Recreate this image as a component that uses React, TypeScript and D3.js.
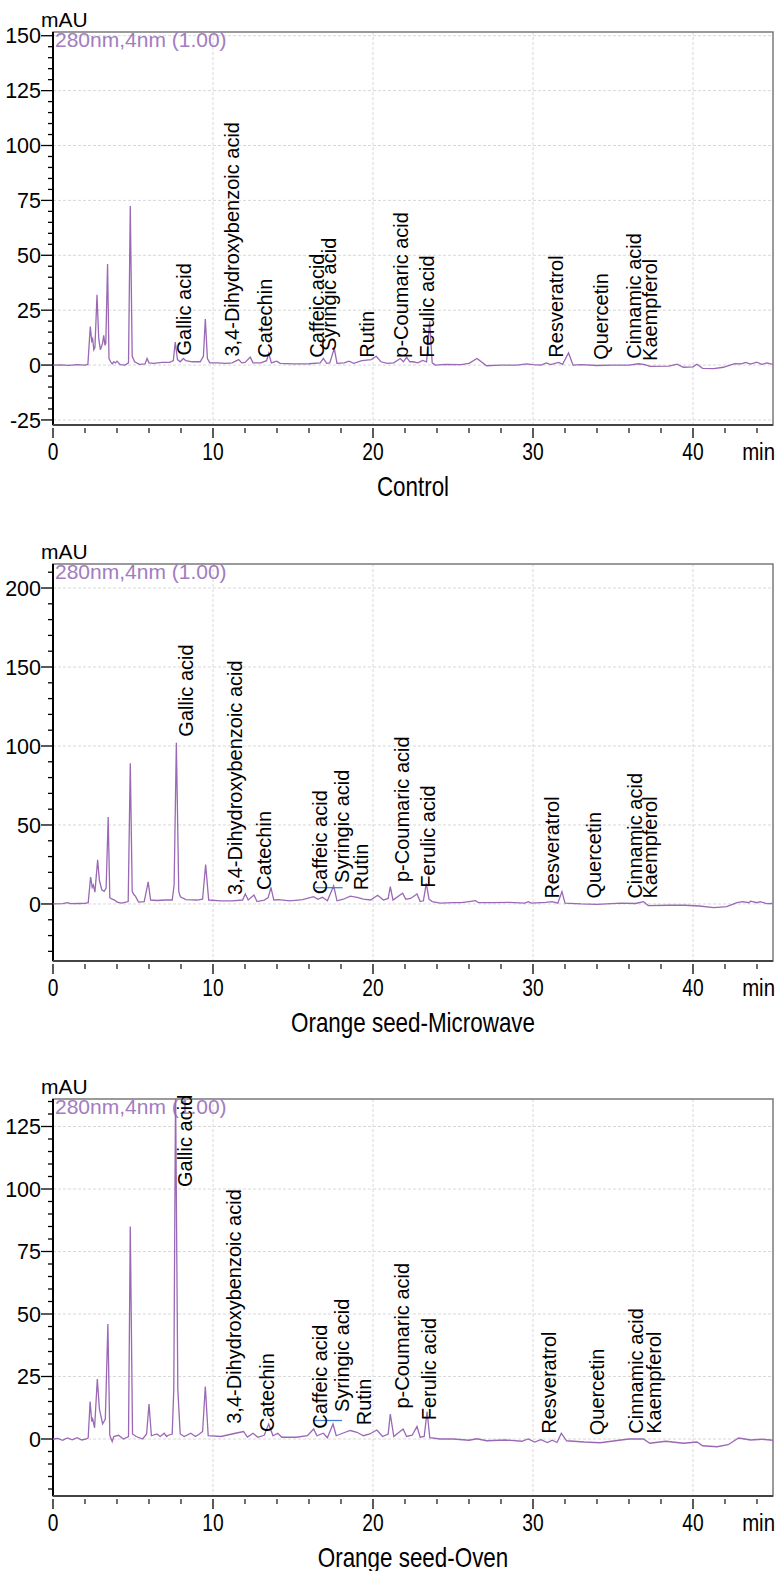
import React from "react";
import * as d3 from "d3";

// chromatogram traces, [retention time (min), signal (mAU)]
const controlTrace: [number, number][] = [
  [0, 0], [0.5, 0.1], [1.0, -0.1], [1.5, 0.2], [2.0, 0], [2.18, 0.3], [2.33, 17.5], [2.42, 11], [2.48, 12],
  [2.55, 7], [2.62, 8], [2.75, 32], [2.86, 12], [2.96, 7], [3.1, 10], [3.17, 13.5], [3.25, 9], [3.3, 10],
  [3.41, 46], [3.5, 3], [3.6, 1.5], [3.7, 0.5], [3.8, 1.5], [3.9, 1], [4.0, 1.8], [4.2, 0.2], [4.5, 0],
  [4.72, 1], [4.83, 72.5], [4.95, 4], [5.1, 1.5], [5.4, 0.3], [5.75, 0.5], [5.88, 3], [6.0, 1], [6.3, 0.8],
  [6.8, 1.2], [7.3, 1.2], [7.52, 2], [7.64, 10.5], [7.78, 2.5], [7.95, 1.5], [8.15, 3], [8.3, 2], [8.7, 1.5],
  [9.2, 1.5], [9.4, 4], [9.52, 21], [9.65, 3], [9.8, 1], [10.3, 1], [10.8, 0.8], [11.2, 1], [11.6, 2.5],
  [11.8, 1], [12.0, 1.2], [12.33, 3.6], [12.5, 1], [13.0, 1], [13.35, 2], [13.48, 5.3], [13.65, 1],
  [13.98, 1.8], [14.2, 0.8], [15, 0.5], [16, 0.6], [16.7, 1], [16.9, 3], [17.1, 0.8], [17.3, 1], [17.58, 7.6],
  [17.75, 0.8], [18.2, 1], [18.5, 1.8], [18.8, 0.8], [19.3, 2], [19.9, 2.5], [20.2, 4], [20.5, 1.5],
  [20.9, 0.8], [21.3, 1], [21.7, 3], [21.9, 1.5], [22.1, 3.5], [22.3, 1.5], [22.5, 1.5], [22.8, 1],
  [23.1, 2.1], [23.35, 1.5], [23.54, 20], [23.7, 1], [23.9, 0], [24.5, 0.3], [25.5, 0.2], [26.0, 0.8],
  [26.5, 3], [27.1, -0.3], [28, 0], [29, 0], [29.6, 0.5], [30, 0.2], [30.5, 0], [30.83, 1], [31.1, 0.2],
  [31.6, 1.2], [31.85, 0.3], [32.22, 5.6], [32.5, 0], [33, 0.2], [34, -0.2], [35, 0], [36, 0], [36.6, 0.6],
  [37, 0.2], [37.3, -0.6], [38.5, -0.5], [39.0, 0.4], [39.4, -1], [40.0, -0.8], [40.25, 0.4], [40.6, -1.5],
  [41.3, -1.6], [41.9, -1], [42.6, 0.6], [43.0, 0.5], [43.3, 1.2], [43.6, 0.4], [43.98, 1.3], [44.3, 0.3],
  [44.6, 1], [45, 0.3],
];

const microwaveTrace: [number, number][] = [
  [0, 0], [0.6, 0.2], [0.9, 0.8], [1.1, 0.2], [1.6, 0.3], [2.0, 0.4], [2.2, 0.8], [2.35, 17], [2.45, 10.5],
  [2.52, 12], [2.62, 7.5], [2.79, 28], [2.9, 15], [3.05, 9], [3.2, 8], [3.32, 10], [3.45, 55], [3.55, 4],
  [3.7, 3], [3.85, 2.5], [4.0, 1.2], [4.3, 0.5], [4.7, 1.5], [4.83, 89], [4.95, 8], [5.05, 6], [5.15, 5],
  [5.35, 1.2], [5.7, 1.5], [5.95, 14], [6.1, 2.5], [6.5, 2.2], [7.0, 2.5], [7.45, 2.5], [7.57, 12],
  [7.71, 102], [7.86, 8], [7.96, 4.6], [8.3, 2.8], [9.0, 2.5], [9.35, 3], [9.54, 25], [9.73, 2.5], [10.5, 2],
  [11.2, 2], [11.85, 2.5], [12.02, 6.3], [12.2, 2.5], [12.56, 5.7], [12.75, 1.5], [13.2, 2.5], [13.45, 4],
  [13.62, 10.5], [13.8, 2.5], [14.1, 2.8], [14.8, 2], [15.6, 2.8], [16.29, 4.6], [16.55, 3], [16.84, 4.2],
  [17.15, 2], [17.54, 11.4], [17.75, 2], [18.15, 3], [18.58, 5], [19.0, 4.2], [19.4, 3], [19.85, 2.5],
  [20.29, 5.5], [20.65, 2.5], [20.95, 3.5], [21.08, 11], [21.25, 2.5], [21.85, 6.8], [22.05, 3], [22.35, 3.5],
  [22.75, 6.3], [22.95, 1.5], [23.15, 2], [23.33, 13], [23.5, 3], [23.7, 1.5], [24.2, 0.5], [25, 0.8],
  [25.5, 0.8], [26.0, 1.5], [26.4, 2.1], [26.6, 0.8], [27.5, 0.8], [28.5, 1], [29.5, 0.5], [29.7, 1.5],
  [29.9, 0.5], [30.8, 1], [31.2, 1.5], [31.55, 0.5], [31.81, 7.8], [32.0, 0.5], [33, 0], [34, -0.2],
  [35.5, 0.5], [36.4, 0.3], [36.9, 1.5], [37.2, -1], [38.5, -0.8], [39.5, -0.8], [40.4, -1.3], [41.3, -2.3],
  [42.1, -1.7], [42.75, 0.8], [43.1, 1.5], [43.5, 0.8], [43.6, 1.8], [44.0, 0.8], [44.2, 1.5], [44.6, 0.2],
  [45, 0.3],
];

const ovenTrace: [number, number][] = [
  [0, 0], [0.3, 0.2], [0.6, -0.5], [0.9, 0.4], [1.2, -0.3], [1.5, 0.5], [1.8, -0.4], [2.1, 0], [2.2, 0.5],
  [2.32, 15], [2.42, 7], [2.48, 8], [2.6, 4.5], [2.77, 24], [2.9, 12], [3.1, 6], [3.27, 8], [3.43, 46],
  [3.55, 1.5], [3.7, -1], [3.8, 1], [4.1, 1.5], [4.4, 0], [4.72, 1], [4.83, 85], [4.97, 2], [5.2, 1],
  [5.6, 0], [5.85, 2], [6.0, 14], [6.15, 1.3], [6.5, 2], [6.7, 1], [6.95, 2.3], [7.1, 1], [7.2, 1.5],
  [7.45, 2], [7.55, 20], [7.66, 140], [7.8, 20], [7.95, 2], [8.2, 1], [8.61, 2.3], [8.9, 1], [9.15, 2],
  [9.35, 3], [9.52, 21], [9.7, 1.3], [10.5, 1], [11.4, 2.3], [11.91, 3], [12.15, 0.8], [12.5, 2.3],
  [12.8, 0.7], [13.2, 1.5], [13.48, 6], [13.75, 1.3], [14.05, 2.3], [14.3, 0.7], [15.2, 0.7], [15.9, 1.3],
  [16.29, 4], [16.5, 1.3], [16.9, 2.3], [17.15, 0.5], [17.5, 6], [17.7, 1.3], [18.1, 2.3], [18.58, 3.4],
  [19.0, 2.7], [19.4, 1.3], [19.8, 2], [20.24, 3.6], [20.6, 1], [20.95, 2], [21.08, 10], [21.3, 1],
  [21.88, 4], [22.1, 1], [22.45, 1.5], [22.75, 5], [22.95, 0.7], [23.2, 1], [23.38, 11], [23.55, 0.5],
  [24.2, 0], [25, 0], [26, -0.5], [26.5, 0.1], [27.1, -0.7], [28.3, -0.4], [29.3, -0.9], [29.7, 0],
  [30.1, -1.2], [30.5, -0.3], [30.9, -1.4], [31.2, -0.5], [31.5, -1.4], [31.77, 2.3], [32.1, -0.7],
  [33.2, -1.2], [34.2, -1.5], [35.5, -0.4], [36.0, 0], [36.9, 0], [37.3, -1.7], [38.3, -0.9], [39.4, -1.7],
  [40.25, -1.2], [40.6, -2.7], [41.5, -3.1], [42.2, -2.3], [42.85, 0.4], [43.6, -0.4], [44.3, -0.1],
  [45, -0.5],
];

const compounds = [
  "Gallic acid", "3,4-Dihydroxybenzoic acid", "Catechin", "Caffeic acid", "Syringic acid", "Rutin",
  "p-Coumaric acid", "Ferulic acid", "Resveratrol", "Quercetin", "Cinnamic acid", "Kaempferol",
];

// label retention time (min) and the signal level (mAU) the label starts from
const controlLabelTime = [8.16, 11.19, 13.27, 16.5, 17.23, 19.63, 21.75, 23.38, 31.46, 34.25, 36.33, 37.29];
const controlLabelBase = [3, 2.5, 2, 2, 5, 2, 2, 2, 2, 1, 1.5, 0.5];
const microwaveLabelTime = [8.34, 11.39, 13.16, 16.66, 18.06, 19.25, 21.81, 23.44, 31.19, 33.79, 36.39, 37.33];
const microwaveLabelBase = [104, 3.8, 7, 4.2, 11.4, 6.8, 12, 8.4, 1.5, 1.5, 1.5, 1.5];
const ovenLabelTime = [8.27, 11.29, 13.37, 16.66, 18.06, 19.41, 21.81, 23.48, 30.98, 34.0, 36.46, 37.58];
const ovenLabelBase = [99.6, 4.9, 1.6, 2.9, 9.6, 4.3, 11, 6.3, 0.9, 0.3, 0.9, 0.9];

// integration baseline marks [start, end, mAU]
const microwaveBlue: [number, number, number][] = [[16.4, 18.1, 10.3]];
const ovenBlue: [number, number, number][] = [[16.29, 18.06, 7.4]];

const xMajorTicks = [0, 10, 20, 30, 40];
const xMinorTicks = [2, 4, 6, 8, 12, 14, 16, 18, 22, 24, 26, 28, 32, 34, 36, 38, 42, 44];
const controlYTicks = [-25, 0, 25, 50, 75, 100, 125, 150];
const microwaveYTicks = [0, 50, 100, 150, 200];
const ovenYTicks = [0, 25, 50, 75, 100, 125];

const channelLabel = "280nm,4nm (1.00)";
const titles = ["Control", "Orange seed-Microwave", "Orange seed-Oven"];

const LINE = "#9a68b4";
const SANS = "'Liberation Sans', Arial, sans-serif";
const LEFT = 53;
const RIGHT = 773;

function Panel(props: any) {
  const { id, trace, top, bottom, yDomain, yTicks, minorStep, labelTime, labelBase, blue, title } = props;

  const x = d3.scaleLinear().domain([0, 45]).range([LEFT, RIGHT]);
  const y = d3.scaleLinear().domain(yDomain).range([bottom, top]);

  const minor = d3.range(Math.ceil(yDomain[0] / minorStep) * minorStep, yDomain[1], minorStep)
    .filter((v) => !yTicks.includes(v));

  const line = d3.line<[number, number]>()
    .x((d) => x(d[0]))
    .y((d) => y(d[1]));

  return (
    <g>
      <defs>
        <clipPath id={`clip-${id}`}>
          <rect x={LEFT} y={top} width={RIGHT - LEFT} height={bottom - top} />
        </clipPath>
      </defs>

      {/* grid */}
      {xMajorTicks.filter((t) => t > 0).map((t) => (
        <line key={`gx${t}`} x1={x(t)} x2={x(t)} y1={top} y2={bottom}
          stroke="#d8d8d8" strokeDasharray="3 2" />
      ))}
      {yTicks.map((v: number) => (
        <line key={`gy${v}`} x1={LEFT} x2={RIGHT} y1={y(v)} y2={y(v)}
          stroke="#d8d8d8" strokeDasharray="3 2" />
      ))}

      {/* frame */}
      <rect x={LEFT} y={top} width={RIGHT - LEFT} height={bottom - top}
        fill="none" stroke="#7a7a7a" strokeWidth={1.5} />
      <line x1={LEFT} x2={LEFT} y1={top} y2={bottom} stroke="#000" strokeWidth={2} />
      <line x1={LEFT} x2={RIGHT} y1={bottom} y2={bottom} stroke="#444" strokeWidth={2} />

      {/* y axis */}
      {yTicks.map((v: number) => (
        <g key={`yt${v}`}>
          <line x1={LEFT - 12} x2={LEFT} y1={y(v)} y2={y(v)} stroke="#000" strokeWidth={1.3} />
          <text x={LEFT - 12} y={y(v)} dy="0.36em" textAnchor="end" fontSize={21.5}
            fontFamily={SANS} fill="#000">{v}</text>
        </g>
      ))}
      {minor.map((v: number) => (
        <line key={`ym${v}`} x1={LEFT - 5} x2={LEFT} y1={y(v)} y2={y(v)} stroke="#000" strokeWidth={1.3} />
      ))}
      <text x={41} y={top - 5} fontSize={21} fontFamily={SANS} fill="#000">mAU</text>

      {/* x axis, condensed lettering */}
      {xMajorTicks.map((t) => (
        <g key={`xt${t}`}>
          <line x1={x(t)} x2={x(t)} y1={bottom + 3} y2={bottom + 13} stroke="#222" strokeWidth={1.5} />
          <text transform={`translate(${x(t)},${bottom + 35}) scale(0.8,1)`} textAnchor="middle"
            fontSize={24} fontFamily={SANS} fill="#000">{t}</text>
        </g>
      ))}
      {xMinorTicks.map((t) => (
        <line key={`xm${t}`} x1={x(t)} x2={x(t)} y1={bottom + 3} y2={bottom + 8} stroke="#222" strokeWidth={1.3} />
      ))}
      <text transform={`translate(${RIGHT + 2},${bottom + 35}) scale(0.85,1)`} textAnchor="end"
        fontSize={24} fontFamily={SANS} fill="#000">min</text>
      <text transform={`translate(${(LEFT + RIGHT) / 2},${bottom + 71}) scale(0.83,1)`} textAnchor="middle"
        fontSize={27} fontFamily={SANS} fill="#000">{title}</text>

      {/* channel */}
      <text x={LEFT + 2} y={top + 15} fontSize={21} fontFamily={SANS} fill="#a27cc0">{channelLabel}</text>

      {/* trace */}
      <path d={line(trace) || ""} fill="none" stroke={LINE} strokeWidth={1.3}
        clipPath={`url(#clip-${id})`} />
      {blue.map((b: [number, number, number], i: number) => (
        <line key={`b${i}`} x1={x(b[0])} x2={x(b[1])} y1={y(b[2])} y2={y(b[2])}
          stroke="#3f7fd0" strokeWidth={1.3} />
      ))}

      {/* peak labels */}
      {compounds.map((name, i) => (
        <text key={name} transform={`translate(${x(labelTime[i])},${y(labelBase[i]) - 3}) rotate(-90)`}
          dy="0.35em" fontSize={20} fontFamily={SANS} fill="#000">{name}</text>
      ))}
    </g>
  );
}

export default function App() {
  return (
    <svg width={781} height={1571} style={{ position: "absolute", left: 0, top: 0, background: "#fff" }}>
      <Panel id="control" trace={controlTrace} top={32} bottom={425} yDomain={[-27.3, 151.7]}
        yTicks={controlYTicks} minorStep={5} labelTime={controlLabelTime} labelBase={controlLabelBase}
        blue={[]} title={titles[0]} />
      <Panel id="microwave" trace={microwaveTrace} top={564} bottom={961} yDomain={[-36.1, 215.2]}
        yTicks={microwaveYTicks} minorStep={10} labelTime={microwaveLabelTime} labelBase={microwaveLabelBase}
        blue={microwaveBlue} title={titles[1]} />
      <Panel id="oven" trace={ovenTrace} top={1099} bottom={1496} yDomain={[-22.8, 136]}
        yTicks={ovenYTicks} minorStep={5} labelTime={ovenLabelTime} labelBase={ovenLabelBase}
        blue={ovenBlue} title={titles[2]} />
    </svg>
  );
}
